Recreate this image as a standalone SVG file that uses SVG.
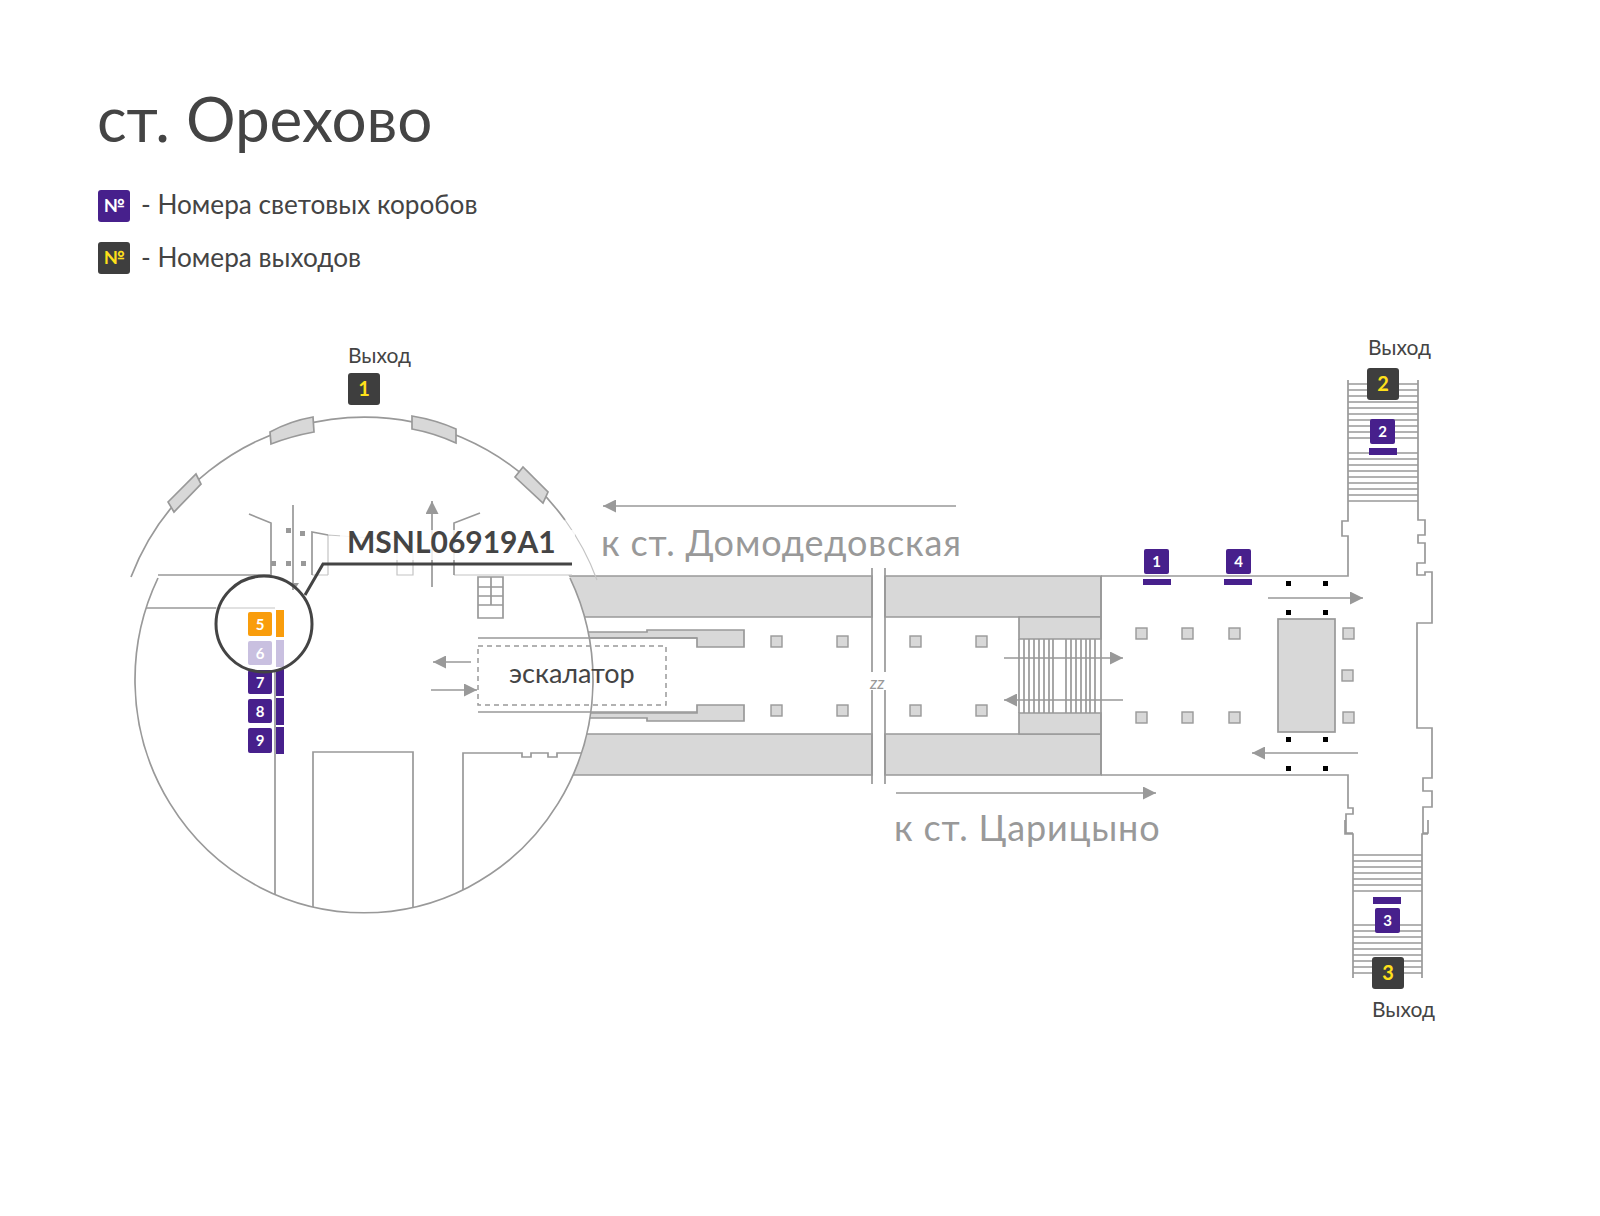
<svg xmlns="http://www.w3.org/2000/svg" width="1600" height="1216" viewBox="0 0 1600 1216">
<style>
text{font-family:"Lato","Noto Sans",sans-serif;fill:#444}
.w{fill:none;stroke:#999;stroke-width:1.7}
.l{fill:none;stroke:#c4c4c4;stroke-width:1.2}
.g{fill:#d8d8d8;stroke:#999;stroke-width:1.7}
.c{fill:#d8d8d8;stroke:#999;stroke-width:1.4}
.p{fill:#47208c}.o{fill:#f99d0c}.v{fill:#c9c0e0}.d{fill:#3e3e3e}
.n{font-size:15px;font-weight:700;fill:#fff;text-anchor:middle}
.y{font-size:20px;font-weight:700;fill:#ffe01a;text-anchor:middle}
.t{font-size:21px}
.k{font-size:36px;fill:#999;letter-spacing:.85px}
.a{fill:none;stroke:#999;stroke-width:1.7}
.dot{fill:#999}
.b{fill:#000}
</style>
<defs>
<marker id="h" markerUnits="userSpaceOnUse" markerWidth="14" markerHeight="13" refX="13" refY="6.500" orient="auto"><path d="M0 0L13 6.500L0 13Z" fill="#999"/></marker>
<g id="pillar"><rect x="0" y="0" width="11" height="11" class="c"/></g>
</defs>
<g id="title">
<text x="97" y="142" font-size="62">ст. Орехово</text>
</g>
<g id="legend">
<rect x="98" y="190" width="32" height="32" rx="3" class="p"/><text x="114" y="212" font-size="18" font-weight="700" text-anchor="middle" style="fill:#fff">№</text>
<text x="141" y="214" font-size="26.200">- Номера световых коробов</text>
<rect x="98" y="242" width="32" height="32" rx="3" class="d"/><text x="114" y="264" font-size="18" font-weight="700" text-anchor="middle" style="fill:#ffe01a">№</text>
<text x="141" y="267" font-size="26.200">- Номера выходов</text>
</g>
<g id="plan">
<path class="g" d="M560 576H872V617H560ZM885 576H1101V617H885ZM560 734H872V775H560ZM885 734H1101V775H885Z"/>
<path class="g" d="M1019 617H1101V639H1019ZM1019 713H1101V734H1019Z"/>
<path class="g" d="M570 632H647V630H744V647H697V638H570ZM570 713H697V705H744V721H647V718H570Z"/>
<ellipse cx="364" cy="680" rx="229" ry="233" fill="#fff"/>
<path class="w" d="M131 577A249 249 0 0 1 565 520"/>
<path class="l" d="M565 520A249 249 0 0 1 597 580"/>
<path class="w" d="M158 578A229 233 0 1 0 570 578"/>
<path class="g" d="M270 432Q290 421 313 417L314 432Q292 436 271 444Z"/>
<path class="g" d="M412 416Q436 420 456 429V443Q434 433 412 429Z"/>
<path class="g" d="M168 502L196 474L201 484L174 512Z"/>
<path class="g" d="M515 477L523 467L548 492L543 503Z"/>
<path class="w" d="M1101 576V775M872 568V672M872 690V784M885 568V672M885 690V784"/>
<text x="870" y="689" font-size="17" font-style="italic" style="fill:#999">zz</text>
<path class="w" d="M1019 639V713M1024 639V713M1029 639V713M1034 639V713M1039 639V713M1044 639V713M1049 639V713M1053 639V713M1066 639V713M1071 639V713M1076 639V713M1081 639V713M1086 639V713M1090 639V713M1095 639V713"/>
<path class="w" d="M1101 576H1348V536H1342V521H1348V380M1418 380V520H1425V535H1418V543H1425V563H1417V575H1425V572H1432V623H1417V728H1432V778H1423V791H1432V807H1423V833H1428V820M1428 834H1422V978M1353 978V834H1345V820M1101 775H1348V808H1353V814H1346V833H1353"/>
<path class="w" d="M1348 384H1418M1348 390H1418M1348 396H1418M1348 402H1418M1348 408H1418M1348 414H1418M1348 420H1418M1348 426H1418M1348 432H1418M1348 438H1418M1348 453H1418M1348 459H1418M1348 465H1418M1348 471H1418M1348 477H1418M1348 483H1418M1348 489H1418M1348 495H1418M1348 501H1418"/>
<path class="w" d="M1353 855H1422M1353 861H1422M1353 867H1422M1353 873H1422M1353 879H1422M1353 885H1422M1353 891H1422M1353 925H1422M1353 931H1422M1353 937H1422M1353 943H1422M1353 949H1422M1353 955H1422M1353 961H1422M1353 967H1422M1353 973H1422"/>
<rect x="1278" y="619" width="57" height="113" class="g"/>
<use href="#pillar" x="771" y="636"/><use href="#pillar" x="837" y="636"/><use href="#pillar" x="910" y="636"/><use href="#pillar" x="976" y="636"/>
<use href="#pillar" x="771" y="705"/><use href="#pillar" x="837" y="705"/><use href="#pillar" x="910" y="705"/><use href="#pillar" x="976" y="705"/>
<use href="#pillar" x="1136" y="628"/><use href="#pillar" x="1182" y="628"/><use href="#pillar" x="1229" y="628"/><use href="#pillar" x="1343" y="628"/>
<use href="#pillar" x="1136" y="712"/><use href="#pillar" x="1182" y="712"/><use href="#pillar" x="1229" y="712"/><use href="#pillar" x="1343" y="712"/>
<use href="#pillar" x="1342" y="670"/>
<path class="b" d="M1286 581h5v5h-5zM1323 581h5v5h-5zM1286 610h5v5h-5zM1323 610h5v5h-5zM1286 737h5v5h-5zM1323 737h5v5h-5zM1286 766h5v5h-5zM1323 766h5v5h-5z"/>
<path class="w" d="M249 514L271 523V575H158M293 505V590M146 608H216M275 672V895M313 907V752H413V907M463 890V753H522V757H531V753H548V757H557V753H582"/>
<path class="l" d="M216 608H275M328 535V575M312 575H328M397 553V575H413V553M454 575H572M328 535L400 540"/>
<path class="w" d="M312 575V532L328 535M454 575V523L480 513"/>
<path class="w" d="M478 577H503V618H478ZM478 587H503M478 596H503M478 605H503M491 577V605"/>
<path class="w" d="M478 638H697M478 712H697"/>
<rect x="478" y="646" width="188" height="59" fill="none" stroke="#999" stroke-width="1.5" stroke-dasharray="5 4"/>
<path class="dot" d="M286 528h5v5h-5zM300 531h5v5h-5zM271 561h5v5h-5zM286 561h5v5h-5zM301 561h5v5h-5z"/>
<path class="dot" d="M291 583h8l-4 6z"/>
</g>
<g id="connectors">
<path class="a" d="M432 587V501" marker-end="url(#h)"/>
<path class="a" d="M956 506H603" marker-end="url(#h)"/>
<path class="a" d="M896 793H1156" marker-end="url(#h)"/>
<path class="a" d="M1004 658H1123" marker-end="url(#h)"/>
<path class="a" d="M1123 700H1004" marker-end="url(#h)"/>
<path class="a" d="M1268 598H1363" marker-end="url(#h)"/>
<path class="a" d="M1358 753H1252" marker-end="url(#h)"/>
<path class="a" d="M471 662H433" marker-end="url(#h)"/>
<path class="a" d="M431 690H477" marker-end="url(#h)"/>
</g>
<g id="labels">
<rect x="340" y="530" width="235" height="30" fill="#fff" opacity=".82"/>
<text x="601" y="556" class="k">к ст. Домодедовская</text>
<text x="894" y="841" class="k">к ст. Царицыно</text>
<text x="509" y="683" font-size="27">эскалатор</text>
</g>
<g id="box-1"><rect x="1144" y="549" width="25" height="25" rx="2" class="p"/><text x="1156.500" y="567" class="n">1</text><rect x="1143" y="579" width="28" height="6" class="p"/></g>
<g id="box-4"><rect x="1226" y="549" width="25" height="25" rx="2" class="p"/><text x="1238.500" y="567" class="n">4</text><rect x="1224" y="579" width="28" height="6" class="p"/></g>
<g id="box-2"><rect x="1370" y="419" width="25" height="25" rx="2" class="p"/><text x="1382.500" y="437" class="n">2</text><rect x="1369" y="448" width="28" height="7" class="p"/></g>
<g id="box-3"><rect x="1375" y="908" width="25" height="25" rx="2" class="p"/><text x="1387.500" y="926" class="n">3</text><rect x="1373" y="897" width="28" height="7" class="p"/></g>
<g id="box-5"><rect x="248" y="612" width="24" height="24" rx="2" class="o"/><text x="260" y="630" class="n">5</text><rect x="276" y="610" width="8" height="27" class="o"/></g>
<g id="box-6"><rect x="248" y="641" width="24" height="24" rx="2" class="v"/><text x="260" y="659" class="n">6</text><rect x="276" y="640" width="8" height="27" class="v"/></g>
<g id="box-7"><rect x="248" y="670" width="24" height="24" rx="2" class="p"/><text x="260" y="688" class="n">7</text><rect x="276" y="669" width="8" height="27" class="p"/></g>
<g id="box-8"><rect x="248" y="699" width="24" height="24" rx="2" class="p"/><text x="260" y="717" class="n">8</text><rect x="276" y="698" width="8" height="27" class="p"/></g>
<g id="box-9"><rect x="248" y="728" width="24" height="25" rx="2" class="p"/><text x="260" y="746" class="n">9</text><rect x="276" y="727" width="8" height="27" class="p"/></g>
<g id="exit-1"><text x="348" y="363" class="t">Выход</text><rect x="348" y="373" width="32" height="32" rx="3" class="d"/><text x="364" y="396" class="y">1</text></g>
<g id="exit-2"><text x="1368" y="355" class="t">Выход</text><rect x="1367" y="368" width="32" height="32" rx="3" class="d"/><text x="1383" y="391" class="y">2</text></g>
<g id="exit-3"><text x="1372" y="1017" class="t">Выход</text><rect x="1372" y="957" width="32" height="32" rx="3" class="d"/><text x="1388" y="980" class="y">3</text></g>
<g id="callout">
<circle cx="264" cy="624" r="48" fill="none" stroke="#444" stroke-width="3"/>
<path d="M305 595L323 564H572" fill="none" stroke="#444" stroke-width="3"/>
<text x="347" y="553" font-size="30" font-weight="700">MSNL06919A1</text>
</g>
</svg>
